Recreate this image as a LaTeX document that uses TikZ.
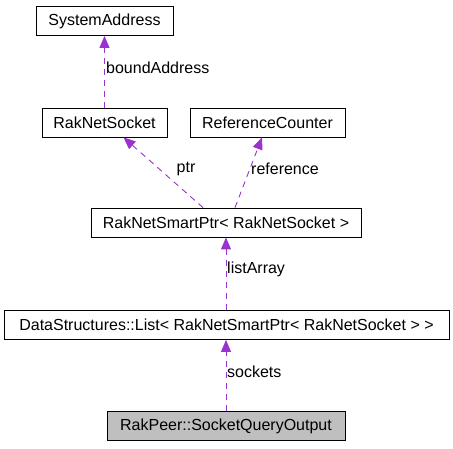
\documentclass[tikz,border=0pt]{standalone}
\usepackage{fontspec}
\setmainfont{Liberation Sans}
\usetikzlibrary{arrows.meta}
\definecolor{edgepurple}{HTML}{9A32CD}
\definecolor{boxgray}{HTML}{BFBFBF}
\tikzset{
    cls/.style = {draw, line width = 0.8pt, minimum height = 29pt, inner sep = 0pt,
                  font = \fontsize{16}{18}\selectfont},
    usage/.style = {draw = edgepurple, dashed, line width = 0.9pt, dash pattern = on 6pt off 5pt,
                    -{Triangle[length = 12pt, width = 10pt, fill = edgepurple]}},
    lbl/.style = {font = \fontsize{16}{18}\selectfont, inner sep = 1pt}
}

\begin{document}
\begin{tikzpicture}[x = 1pt, y = -1pt]
        \useasboundingbox (0, 0) rectangle (453, 448);

        \node [cls, minimum width = 137pt] (sysaddr) at (104.5, 21) {SystemAddress};
        \node [cls, minimum width = 125pt] (socket) at (104.5, 122.5) {RakNetSocket};
        \node [cls, minimum width = 155pt] (refcount) at (267.5, 122.5) {ReferenceCounter};
        \node [cls, minimum width = 270pt] (smartptr) at (226, 222.5) {RakNetSmartPtr< RakNetSocket >};
        \node [cls, minimum width = 445pt] (list) at (226.5, 325) {DataStructures::List< RakNetSmartPtr< RakNetSocket > >};
        \node [cls, minimum width = 238pt, fill = boxgray] (output) at (226, 426) {RakPeer::SocketQueryOutput};

        \draw [usage] (socket.north) -- (sysaddr.south);
        \draw [usage] ([xshift = -23pt]smartptr.north) -- ([xshift = 19pt]socket.south);
        \draw [usage] ([xshift = 9pt]smartptr.north) -- ([xshift = -5.5pt]refcount.south);
        \draw [usage] (list.north -| smartptr.south) -- (smartptr.south);
        \draw [usage] (output.north) -- (list.south -| output.north);

        \node [lbl, anchor = west] (bound) at (105, 68) {boundAddress};
        \node [lbl] (ptrlbl) at (186, 169) {ptr};
        \node [lbl, anchor = west] (reflbl) at (250, 169) {reference};
        \node [lbl, anchor = west] (listlbl) at (226, 269) {listArray};
        \node [lbl, anchor = west] (socklbl) at (226, 372) {sockets};
    \end{tikzpicture}
\end{document}
